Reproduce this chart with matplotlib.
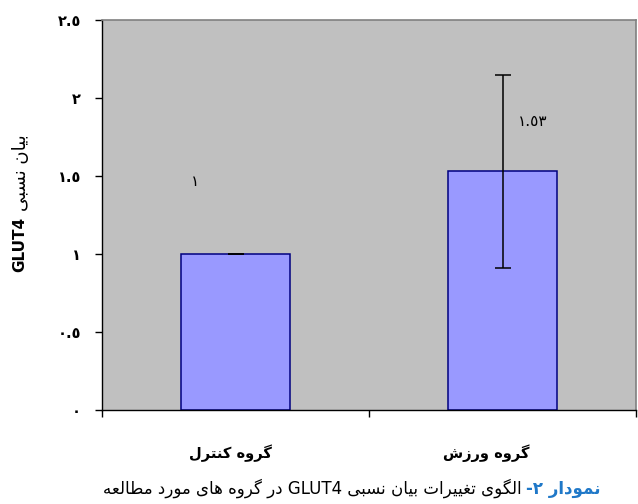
import re
import matplotlib
matplotlib.use("Agg")
import matplotlib.pyplot as plt
from matplotlib.ticker import FuncFormatter, FixedLocator

# data
groups = ["گروه کنترل", "گروه ورزش"]
means = [1.0, 1.53]
errors = [0.0, 0.62]
y_ticks = [0, 0.5, 1, 1.5, 2, 2.5]
y_label_fa = "بیان نسبی"
y_label_en = "GLUT4"
caption_head = "نمودار ۲-"
caption_body = "الگوی تغییرات بیان نسبی GLUT4 در گروه های مورد مطالعه"

# arabic presentation forms: isolated, final, initial, medial
FORMS = {
    "ا": ("\uFE8D", "\uFE8E", None, None),
    "ب": ("\uFE8F", "\uFE90", "\uFE91", "\uFE92"),
    "ت": ("\uFE95", "\uFE96", "\uFE97", "\uFE98"),
    "د": ("\uFEA9", "\uFEAA", None, None),
    "ر": ("\uFEAD", "\uFEAE", None, None),
    "ز": ("\uFEAF", "\uFEB0", None, None),
    "س": ("\uFEB1", "\uFEB2", "\uFEB3", "\uFEB4"),
    "ش": ("\uFEB5", "\uFEB6", "\uFEB7", "\uFEB8"),
    "ط": ("\uFEC1", "\uFEC2", "\uFEC3", "\uFEC4"),
    "ع": ("\uFEC9", "\uFECA", "\uFECB", "\uFECC"),
    "غ": ("\uFECD", "\uFECE", "\uFECF", "\uFED0"),
    "ل": ("\uFEDD", "\uFEDE", "\uFEDF", "\uFEE0"),
    "م": ("\uFEE1", "\uFEE2", "\uFEE3", "\uFEE4"),
    "ن": ("\uFEE5", "\uFEE6", "\uFEE7", "\uFEE8"),
    "ه": ("\uFEE9", "\uFEEA", "\uFEEB", "\uFEEC"),
    "و": ("\uFEED", "\uFEEE", None, None),
    "ک": ("\uFB8E", "\uFB8F", "\uFB90", "\uFB91"),
    "گ": ("\uFB92", "\uFB93", "\uFB94", "\uFB95"),
    "ی": ("\uFBFC", "\uFBFD", "\uFBFE", "\uFBFF"),
}

FA_TO_AR = str.maketrans("۰۱۲۳۴۵۶۷۸۹", "٠١٢٣٤٥٦٧٨٩")
EN_TO_AR = str.maketrans("0123456789", "٠١٢٣٤٥٦٧٨٩")
LTR = r"A-Za-z0-9\u0660-\u0669."


def shape(s):
    out = []
    for i, c in enumerate(s):
        if c not in FORMS:
            out.append(c)
            continue
        prev = s[i - 1] if i > 0 else ""
        nxt = s[i + 1] if i + 1 < len(s) else ""
        join_prev = prev in FORMS and FORMS[prev][2] is not None
        join_next = FORMS[c][2] is not None and nxt in FORMS
        iso, fin, ini, med = FORMS[c]
        if join_prev and join_next:
            out.append(med)
        elif join_prev:
            out.append(fin)
        elif join_next:
            out.append(ini)
        else:
            out.append(iso)
    return "".join(out)


def fa(s):
    s = s.translate(FA_TO_AR)
    tokens = re.findall(f"[{LTR}]+|[^{LTR}]+", s)
    vis = []
    for t in reversed(tokens):
        if re.match(f"[{LTR}]", t):
            vis.append(t)
        else:
            vis.append(shape(t)[::-1])
    return "".join(vis)


def ar_num(v):
    return f"{v:g}".translate(EN_TO_AR)


plt.rcParams["font.family"] = ["DejaVu Sans"]

fig = plt.figure(figsize=(6.38, 5.04), dpi=100)
ax = fig.add_axes([102 / 638, 94 / 504, 534 / 638, 390 / 504])
ax.set_facecolor("#c0c0c0")

xs = list(range(len(groups)))
ax.bar(xs, means, width=0.41, color="#9999ff", edgecolor="#000080", linewidth=1.1, zorder=2)
ax.errorbar(xs, means, yerr=errors, fmt="none", ecolor="black", elinewidth=1.1,
            capsize=5.5, capthick=1.1, zorder=3)

ax.set_xlim(-0.5, len(groups) - 0.5)
ax.set_ylim(0, 2.5)
ax.yaxis.set_major_locator(FixedLocator(y_ticks))
ax.yaxis.set_major_formatter(FuncFormatter(lambda v, p: ar_num(v)))
ax.tick_params(axis="y", direction="out", length=5, width=1, pad=10, labelsize=10.5)
for lb in ax.get_yticklabels():
    lb.set_fontweight("bold")
ax.xaxis.set_major_locator(FixedLocator([x - 0.5 for x in xs] + [len(groups) - 0.5]))
ax.tick_params(axis="x", direction="out", length=5, width=1, labelbottom=False)

for side in ["left", "bottom"]:
    ax.spines[side].set_color("black")
    ax.spines[side].set_linewidth(1.0)
for side in ["top", "right"]:
    ax.spines[side].set_color("#808080")
    ax.spines[side].set_linewidth(1.2)

# data labels (moved like in the original sheet)
label_offsets = [(-40, 73), (30, 50)]
for x, m, (dx, dy) in zip(xs, means, label_offsets):
    ax.annotate(ar_num(m), xy=(x, m), xytext=(dx, dy), textcoords="offset pixels",
                ha="center", va="center", fontsize=11)

# category labels
label_shift = [-0.02, -0.06]
for x, g, sh in zip(xs, groups, label_shift):
    ax.text(x + sh, -0.11, fa(g), transform=ax.get_xaxis_transform(),
            ha="center", va="center", fontsize=10.5, fontweight="bold")

# y label: bold GLUT4 below, persian words above
glut = fig.text(20 / 638, (504 - 272) / 504, y_label_en, rotation=90,
                ha="center", va="bottom", fontsize=11, fontweight="bold")
ax.annotate(fa(y_label_fa), xy=(0.5, 1), xycoords=glut, xytext=(1, 6),
            textcoords="offset pixels", rotation=90, ha="center", va="bottom", fontsize=13)

# caption
base_y = (504 - 494) / 504
head = fig.text(600 / 638, base_y, fa(caption_head), ha="right", va="baseline",
                fontsize=12, fontweight="bold", color="#1f78c8")
ax.annotate(fa(caption_body), xy=(0, base_y), xycoords=(head, "figure fraction"),
            xytext=(-4, 0), textcoords="offset pixels", ha="right", va="baseline",
            fontsize=12, annotation_clip=False)

fig.savefig("out.png", dpi=100)
